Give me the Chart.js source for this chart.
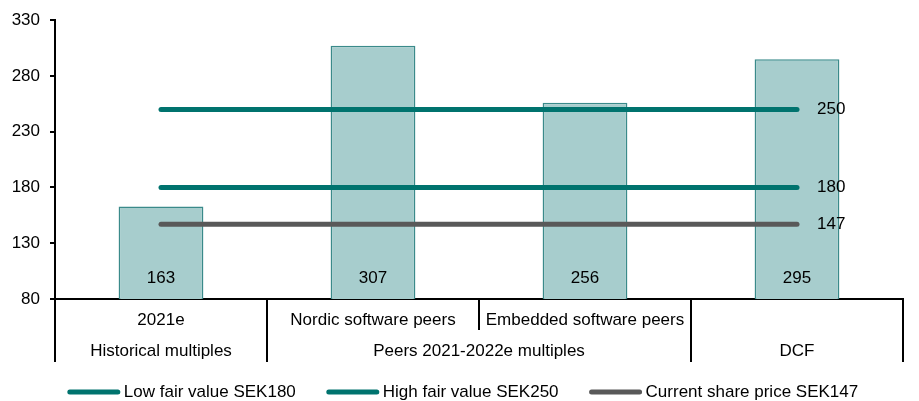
<!DOCTYPE html>
<html>
<head>
<meta charset="utf-8">
<script src="https://cdn.jsdelivr.net/npm/chart.js@4.4.0/dist/chart.umd.min.js"></script>
<style>
  body { margin: 0; background: #fff; }
</style>
</head>
<body>
<canvas id="valuation-chart" width="919" height="401"></canvas>
<script>
const categories = ["2021e", "Nordic software peers", "Embedded software peers", ""];
const methodValues = [163, 307, 256, 295];
const groupLabels = ["Historical multiples", "Peers 2021-2022e multiples", "DCF"];
const groupSpans = [[0, 0], [1, 2], [3, 3]];
const lowFairValue = [180, 180, 180, 180];
const highFairValue = [250, 250, 250, 250];
const sharePrice = [147, 147, 147, 147];
const yTicks = [80, 130, 180, 230, 280, 330];

const FONT = '17px "Liberation Sans", Arial, sans-serif';
const teal = "#00736e";
const grey = "#595959";

// bar labels, line end labels, grouped category axis and legend
const extraDraw = {
  id: "extraDraw",
  afterDraw(chart) {
    const ctx = chart.ctx;
    const x = chart.scales.x;
    const y = chart.scales.y;
    const base = y.getPixelForValue(yTicks[0]);
    ctx.save();
    ctx.font = FONT;
    ctx.fillStyle = "#000";
    ctx.textBaseline = "middle";

    // values inside the bars
    ctx.textAlign = "center";
    chart.getDatasetMeta(3).data.forEach(function (bar, i) {
      ctx.fillText(String(methodValues[i]), bar.x, base - 21);
    });

    // values at the end of the lines
    ctx.textAlign = "left";
    [0, 1, 2].forEach(function (d) {
      const pts = chart.getDatasetMeta(d).data;
      const last = pts[pts.length - 1];
      const vals = chart.data.datasets[d].data;
      ctx.fillText(String(vals[vals.length - 1]), last.x + 20, last.y);
    });

    // two level category axis
    const half = (x.getPixelForValue(1) - x.getPixelForValue(0)) / 2;
    const start = x.getPixelForValue(0) - half;
    const row1 = base + 21;
    const row2 = base + 52;
    const rowEnd = base + 63;
    const groupEdges = [0];
    groupSpans.forEach(function (s) { groupEdges.push(s[1] + 1); });

    ctx.strokeStyle = "#000";
    ctx.lineWidth = 2;
    for (let i = 0; i <= categories.length; i++) {
      const bx = Math.round(start + i * 2 * half);
      const full = groupEdges.indexOf(i) !== -1;
      ctx.beginPath();
      ctx.moveTo(bx, base);
      ctx.lineTo(bx, full ? rowEnd : base + 31);
      ctx.stroke();
    }

    ctx.textAlign = "center";
    categories.forEach(function (c, i) {
      ctx.fillText(c, x.getPixelForValue(i), row1);
    });
    groupLabels.forEach(function (g, i) {
      const cx = (x.getPixelForValue(groupSpans[i][0]) + x.getPixelForValue(groupSpans[i][1])) / 2;
      ctx.fillText(g, cx, row2);
    });

    // legend
    const items = [0, 1, 2].map(function (d) {
      const ds = chart.data.datasets[d];
      return { label: ds.label, color: ds.borderColor, w: ctx.measureText(ds.label).width };
    });
    const lineLen = 52, gap = 4, spacing = 31;
    let total = 0;
    items.forEach(function (it) { total += lineLen + gap + it.w; });
    total += spacing * (items.length - 1);
    let lx = 463 - total / 2;
    const ly = 392;
    ctx.textAlign = "left";
    ctx.lineCap = "round";
    items.forEach(function (it) {
      ctx.strokeStyle = it.color;
      ctx.lineWidth = 5;
      ctx.beginPath();
      ctx.moveTo(lx + 2, ly);
      ctx.lineTo(lx + lineLen - 2, ly);
      ctx.stroke();
      ctx.fillStyle = "#000";
      ctx.fillText(it.label, lx + lineLen + gap, ly);
      lx += lineLen + gap + it.w + spacing;
    });
    ctx.restore();
  }
};

const ctx = document.getElementById("valuation-chart").getContext("2d");

new Chart(ctx, {
  data: {
    labels: categories,
    datasets: [
      {
        type: "line",
        label: "Low fair value SEK180",
        data: lowFairValue,
        borderColor: teal,
        backgroundColor: teal,
        borderWidth: 5,
        borderCapStyle: "round",
        pointRadius: 0,
        order: 1
      },
      {
        type: "line",
        label: "High fair value SEK250",
        data: highFairValue,
        borderColor: teal,
        backgroundColor: teal,
        borderWidth: 5,
        borderCapStyle: "round",
        pointRadius: 0,
        order: 1
      },
      {
        type: "line",
        label: "Current share price SEK147",
        data: sharePrice,
        borderColor: grey,
        backgroundColor: grey,
        borderWidth: 5,
        borderCapStyle: "round",
        pointRadius: 0,
        order: 1
      },
      {
        type: "bar",
        label: "Valuation",
        data: methodValues,
        backgroundColor: "#a7cdcd",
        borderColor: "#3a8a8a",
        borderWidth: 1.5,
        categoryPercentage: 1,
        barPercentage: 0.4,
        order: 2
      }
    ]
  },
  options: {
    responsive: false,
    animation: false,
    layout: { padding: { top: 20, right: 16, left: 0, bottom: 0 } },
    plugins: {
      legend: { display: false },
      tooltip: { enabled: false }
    },
    scales: {
      x: {
        grid: { display: false },
        border: { color: "#000", width: 2 },
        ticks: { display: false },
        afterFit: function (scale) { scale.height = 102; }
      },
      y: {
        min: 80,
        max: 330,
        afterBuildTicks: function (scale) {
          scale.ticks = yTicks.map(function (v) { return { value: v }; });
        },
        grid: { drawOnChartArea: false, drawTicks: true, tickLength: 5, color: "#000", lineWidth: 2 },
        border: { color: "#000", width: 2 },
        ticks: { color: "#000", font: { family: '"Liberation Sans", Arial, sans-serif', size: 17 }, padding: 10 },
        afterFit: function (scale) { scale.width = 55; }
      }
    }
  },
  plugins: [extraDraw]
});
</script>
</body>
</html>
